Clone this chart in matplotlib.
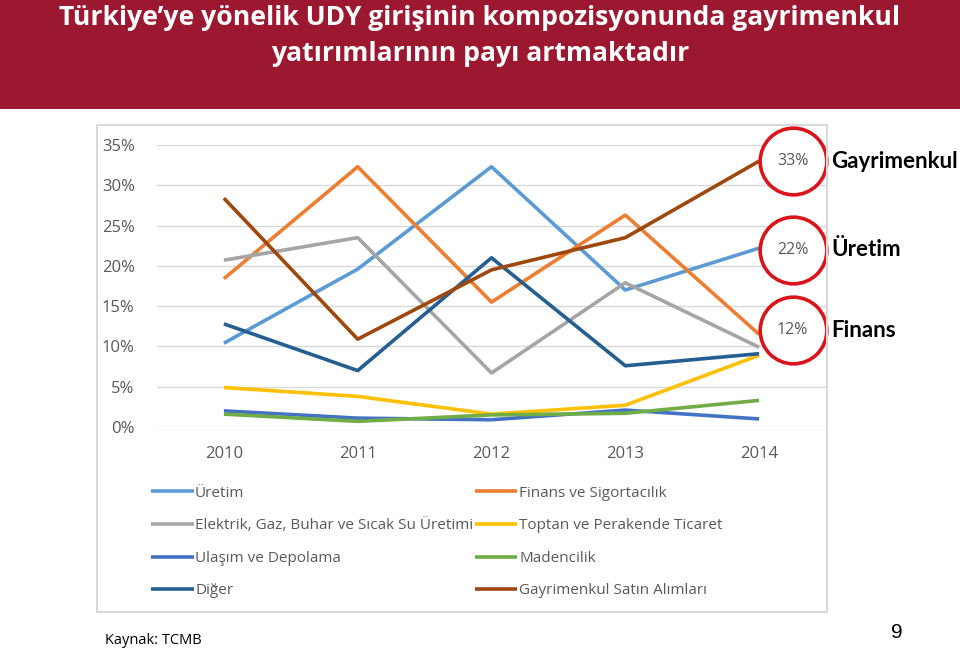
import numpy as np
import matplotlib
matplotlib.use("Agg")
import matplotlib.pyplot as plt
from matplotlib.patches import Rectangle

W, H = 960, 648

years = [2010, 2011, 2012, 2013, 2014]
uretim = [10.4, 19.6, 32.3, 17.0, 22.2]
finans = [18.4, 32.3, 15.5, 26.3, 11.5]
elektrik = [20.7, 23.5, 6.7, 17.9, 9.9]
toptan = [4.9, 3.8, 1.6, 2.7, 8.9]
ulasim = [2.0, 1.1, 0.9, 2.1, 1.0]
madencilik = [1.6, 0.7, 1.5, 1.7, 3.3]
diger = [12.8, 7.0, 21.0, 7.6, 9.1]
gayrimenkul = [28.4, 10.9, 19.5, 23.5, 33.0]

series = [
    ("Üretim", uretim, "#5B9BD5"),
    ("Finans ve Sigortacılık", finans, "#ED7D31"),
    ("Elektrik, Gaz, Buhar ve Sıcak Su Üretimi", elektrik, "#A5A5A5"),
    ("Toptan ve Perakende Ticaret", toptan, "#FFC000"),
    ("Ulaşım ve Depolama", ulasim, "#4472C4"),
    ("Madencilik", madencilik, "#70AD47"),
    ("Diğer", diger, "#255E91"),
    ("Gayrimenkul Satın Alımları", gayrimenkul, "#9E480E"),
]

callout_vals = [33, 22, 12]
callout_names = ["Gayrimenkul", "Üretim", "Finans"]

chart_font = "Open Sans"
grey_txt = "#595959"

fig = plt.figure(figsize=(W / 100, H / 100), dpi=100)
fig.patch.set_facecolor("white")

# title banner
fig.patches.append(Rectangle((0, 1 - 109 / H), 1, 109 / H, transform=fig.transFigure,
                             facecolor="#9C1730", edgecolor="none", zorder=0))
fig.text(0.5, 1 - 18 / H, "Türkiye’ye yönelik UDY girişinin kompozisyonunda gayrimenkul",
         ha="center", va="center", color="white", fontsize=19.1, fontweight="bold",
         family=chart_font)
fig.text(0.5, 1 - 54 / H, "yatırımlarının payı artmaktadır",
         ha="center", va="center", color="white", fontsize=19.1, fontweight="bold",
         family=chart_font)

# chart border
fig.patches.append(Rectangle((97 / W, 1 - 612 / H), (827 - 97) / W, (612 - 125) / H,
                             transform=fig.transFigure, facecolor="none",
                             edgecolor="#D9D9D9", linewidth=1.5, zorder=0))

ax = fig.add_axes([157 / W, 1 - 427 / H, (826 - 157) / W, (427 - 145) / H])
ax.set_xlim(2009.5, 2014.5)
ax.set_ylim(0, 35)

lines = {}
for name, vals, col in series:
    ln, = ax.plot(years, vals, color=col, linewidth=2.6, label=name,
                  solid_capstyle="butt", clip_on=False, zorder=3)
    lines[name] = ln

for s in ax.spines.values():
    s.set_visible(False)
ax.set_yticks(np.arange(0, 36, 5))
ax.set_yticklabels([f"{v}%" for v in range(0, 36, 5)])
ax.set_xticks(years)
ax.grid(axis="y", color="#D9D9D9", linewidth=1)
ax.set_axisbelow(True)
ax.tick_params(length=0, labelsize=12, labelcolor=grey_txt)
ax.tick_params(axis="y", pad=16)
ax.tick_params(axis="x", pad=14)
for lab in ax.get_xticklabels() + ax.get_yticklabels():
    lab.set_family(chart_font)

# callout circles
for v, nm in zip(callout_vals, callout_names):
    ax.plot(2014.25, v, marker="o", markersize=48, markerfacecolor="white",
            markeredgecolor="#D9141B", markeredgewidth=2.6, clip_on=False, zorder=5)
    ax.text(2014.25, v, f"{v}%", ha="center", va="center", fontsize=11.5,
            color=grey_txt, family=chart_font, zorder=6)
    ax.annotate(nm, (2014.25, v), xytext=(28, 0), textcoords="offset points",
                ha="left", va="center", fontsize=16, fontweight="bold",
                color="black", family="Lato", annotation_clip=False)

order = [0, 2, 4, 6, 1, 3, 5, 7]
handles = [lines[series[i][0]] for i in order]
leg = fig.legend(handles, [h.get_label() for h in handles], ncol=2,
                 loc="upper left", bbox_to_anchor=(137 / W, 1 - 472 / H),
                 frameon=False, handlelength=2.8, handletextpad=0.1,
                 columnspacing=0.1, labelspacing=1.15,
                 prop={"family": chart_font, "size": 11})
for t in leg.get_texts():
    t.set_color(grey_txt)

fig.text(105 / W, 1 - 640 / H, "Kaynak: TCMB", ha="left", va="center",
         fontsize=10.5, family=chart_font, color="black")
fig.text(897 / W, 1 - 633 / H, "9", ha="center", va="center",
         fontsize=15, family="Liberation Sans", color="black")

fig.savefig("out.png", dpi=100)
